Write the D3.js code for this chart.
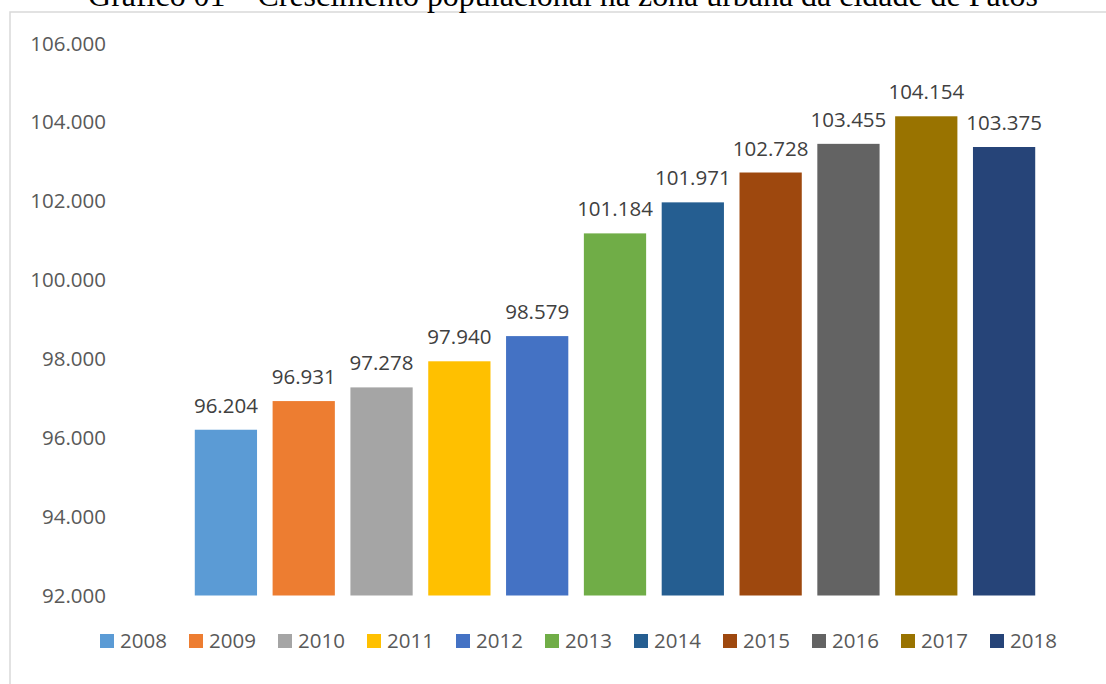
<!DOCTYPE html>
<html>
<head>
<meta charset="utf-8">
<script src="https://cdn.jsdelivr.net/npm/d3@7"></script>
<style>
  body { margin: 0; background: #fff; }
  svg { display: block; }
</style>
</head>
<body>
<svg id="chart" width="1106" height="684"></svg>
<script>
const years = ["2008", "2009", "2010", "2011", "2012", "2013", "2014", "2015", "2016", "2017", "2018"];
const population = [96204, 96931, 97278, 97940, 98579, 101184, 101971, 102728, 103455, 104154, 103375];
const colors = ["#5b9bd5", "#ed7d31", "#a5a5a5", "#ffc000", "#4472c4", "#70ad47",
  "#255e91", "#9e480e", "#636363", "#997300", "#264478"];
const yTicks = [92000, 94000, 96000, 98000, 100000, 102000, 104000, 106000];
const title = "Gráfico 01 – Crescimento populacional na zona urbana da cidade de Patos";

const svg = d3.select("#chart");
const font = "'Open Sans', 'Liberation Sans', sans-serif";
const fmt = (v) => d3.format(",")(v).replace(/,/g, ".");

// chart frame (only top and left edges show)
svg.append("rect")
  .attr("x", 10)
  .attr("y", 12)
  .attr("width", 1120)
  .attr("height", 700)
  .attr("fill", "none")
  .attr("stroke", "#d9d9d9")
  .attr("stroke-width", 1.5);

// title, mostly cut off by the top edge
const titleText = svg.append("text")
  .attr("x", 563)
  .attr("y", 6)
  .attr("text-anchor", "middle")
  .attr("font-family", "'Liberation Serif', 'Times New Roman', serif")
  .attr("font-size", 28)
  .attr("fill", "#000")
  .text(title);
const tw = titleText.node().getComputedTextLength();
titleText.attr("font-size", 28 * 950 / tw);

const x = d3.scaleBand()
  .domain(years)
  .range([187, 1043])
  .paddingInner(0.2)
  .paddingOuter(0.1);

const y = d3.scaleLinear()
  .domain([92000, 106000])
  .range([595.5, 43.5]);

// y axis labels
const yAxis = d3.axisLeft(y)
  .tickValues(yTicks)
  .tickFormat(fmt)
  .tickSize(0)
  .tickPadding(0);

const gy = svg.append("g")
  .attr("transform", "translate(106,0)")
  .call(yAxis);
gy.select(".domain").remove();
gy.selectAll("text")
  .attr("font-family", font)
  .attr("font-size", 20.5)
  .attr("fill", "#595959");

// bars
svg.append("g")
  .selectAll("rect")
  .data(years)
  .join("rect")
  .attr("x", (d) => x(d))
  .attr("y", (d, i) => y(population[i]))
  .attr("width", x.bandwidth())
  .attr("height", (d, i) => y(92000) - y(population[i]))
  .attr("fill", (d, i) => colors[i]);

// value labels
svg.append("g")
  .selectAll("text")
  .data(years)
  .join("text")
  .attr("x", (d) => x(d) + x.bandwidth() / 2)
  .attr("y", (d, i) => y(population[i]) - 17)
  .attr("text-anchor", "middle")
  .attr("font-family", font)
  .attr("font-size", 20.5)
  .attr("fill", "#404040")
  .text((d, i) => fmt(population[i]));

// legend
const legend = svg.append("g")
  .selectAll("g")
  .data(years)
  .join("g")
  .attr("transform", (d, i) => `translate(${100 + i * 89},634)`);

legend.append("rect")
  .attr("width", 14)
  .attr("height", 14)
  .attr("fill", (d, i) => colors[i]);

legend.append("text")
  .attr("x", 20)
  .attr("y", 7)
  .attr("dy", "0.35em")
  .attr("font-family", font)
  .attr("font-size", 20.5)
  .attr("fill", "#595959")
  .text((d) => d);
</script>
</body>
</html>
